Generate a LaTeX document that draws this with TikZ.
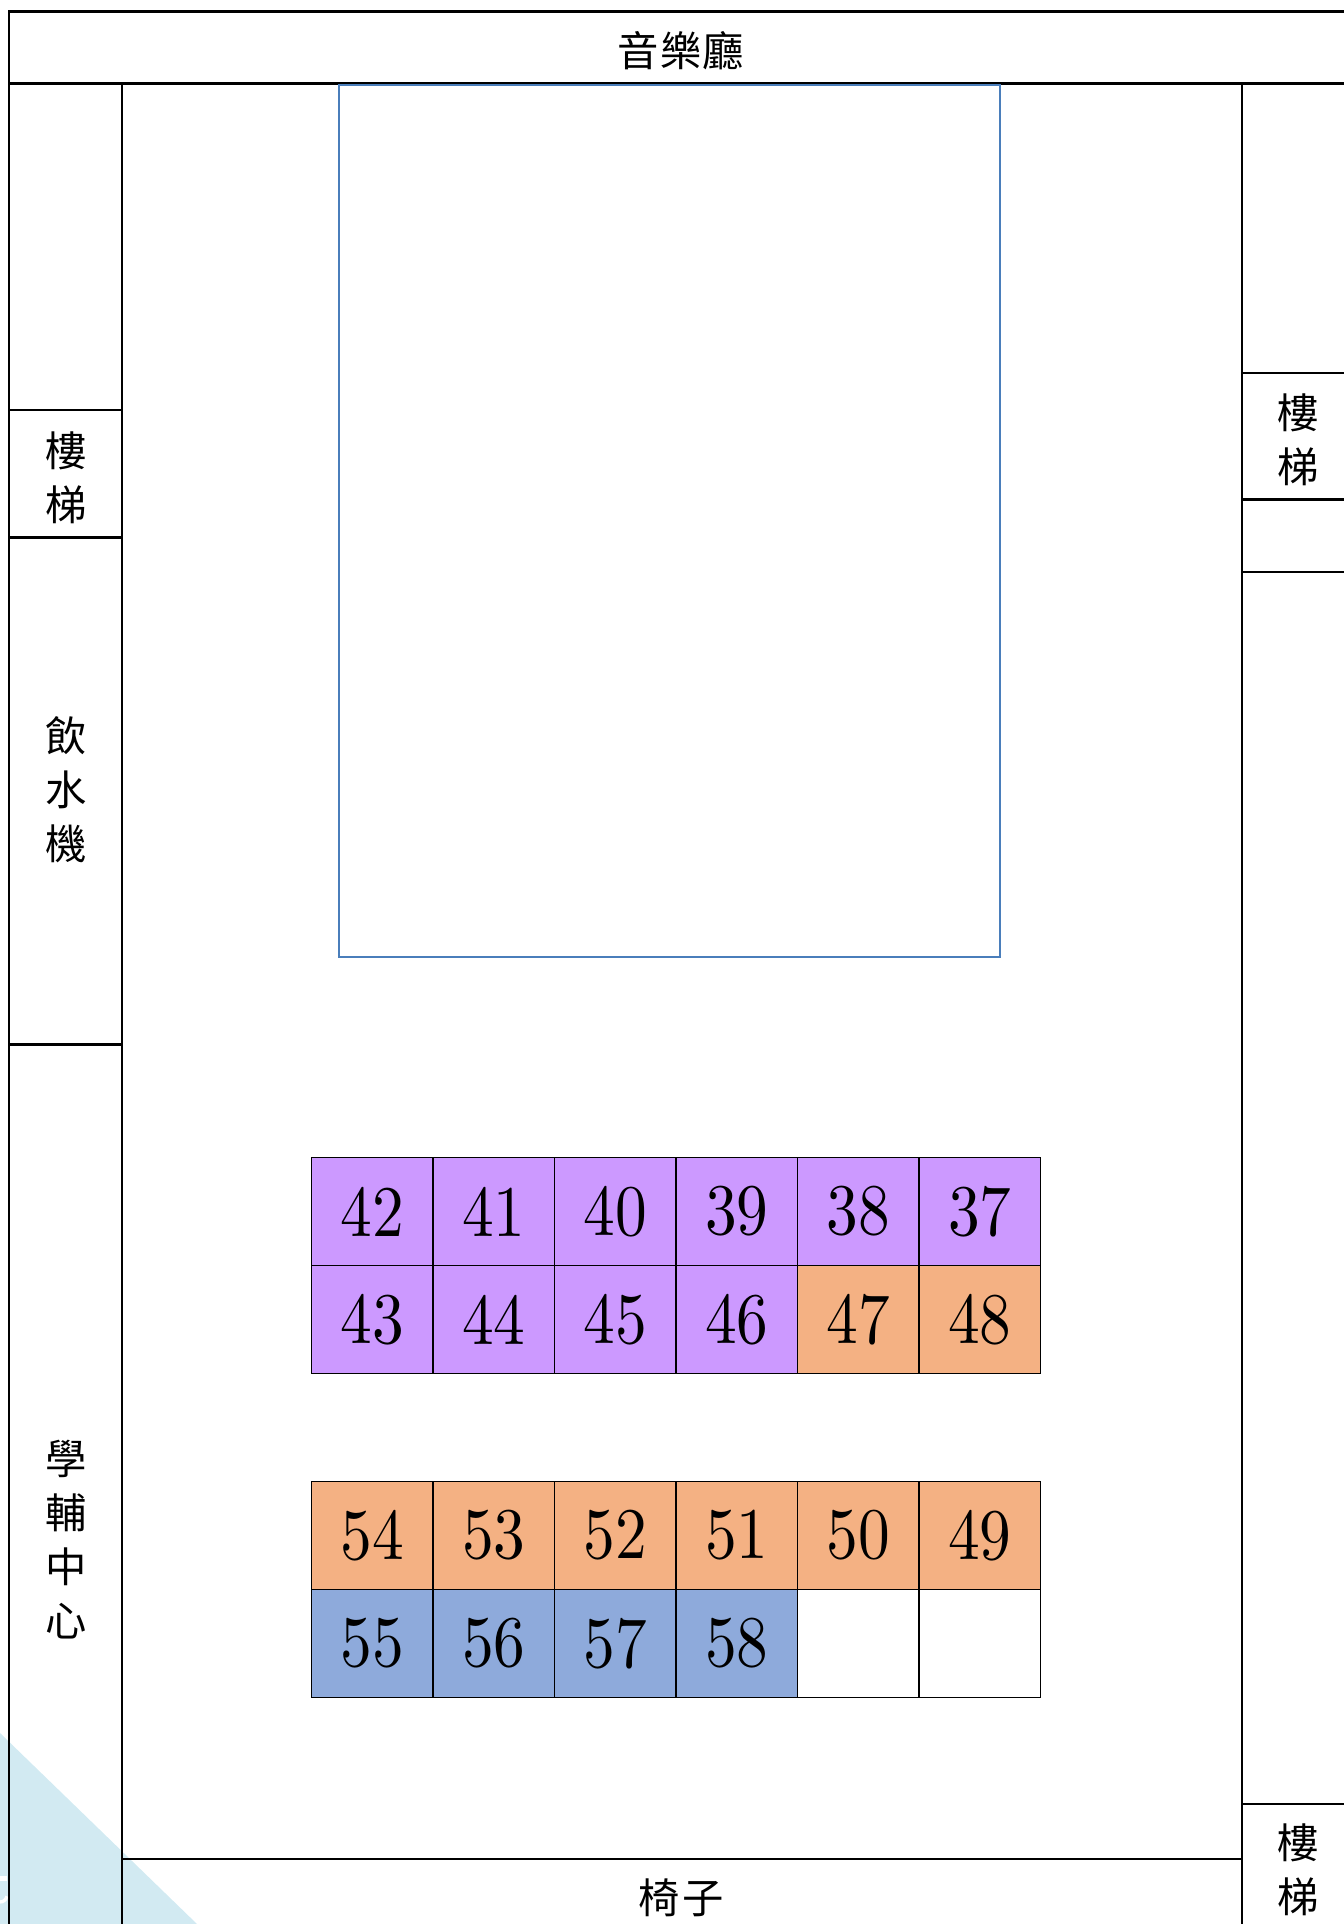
\documentclass[tikz,border=0pt]{standalone}
\usepackage{fontspec}
\newfontfamily\cjk{Noto Sans CJK TC}[Scale=1]
\definecolor{purp}{HTML}{CC99FF}
\definecolor{oran}{HTML}{F4B183}
\definecolor{blu}{HTML}{8EAADB}
\definecolor{tri}{HTML}{D2EAF2}
\definecolor{frame}{HTML}{4A7EBB}
\tikzset{
  wall/.style={draw=black,line width=1.7pt},
  seat/.style={draw=black,line width=1.3pt,minimum width=91pt,minimum height=81pt,inner sep=0pt,anchor=north west,
     font=\fontsize{10}{10}\selectfont},
  lab/.style={font=\cjk\fontsize{31}{40.5}\selectfont,align=center,inner sep=0pt},
}
\newcommand{\dg}[1]{\scalebox{4.75}[5.45]{#1}}
\begin{document}
\begin{tikzpicture}[x=0.75pt,y=-0.75pt]
\useasboundingbox (0,0) rectangle (1344,1924);
\fill[tri] (0,1733) -- (197,1924) -- (0,1924) -- cycle;
\fill[white] (0,1876) rectangle (7,1881);
\draw[white,line width=2.5pt] (0,1902) arc[start angle=90,end angle=10,radius=7];
% walls
\draw[wall] (1344,11.5) -- (9,11.5) -- (9,1924);
\draw[wall] (9,83.5) -- (1344,83.5);
\draw[wall] (121.7,83.5) -- (121.7,1924);
\draw[wall] (1242.3,83.5) -- (1242.3,1924);
\draw[wall] (121.7,1859) -- (1242.3,1859);
\draw[wall] (9,410) -- (121.7,410);
\draw[wall] (9,537.5) -- (121.7,537.5);
\draw[wall] (9,1044.6) -- (121.7,1044.6);
\draw[wall] (1242.3,373) -- (1344,373);
\draw[wall] (1242.3,499.5) -- (1344,499.5);
\draw[wall] (1242.3,572) -- (1344,572);
\draw[wall] (1242.3,1804) -- (1344,1804);
% stage
\node[draw=frame,line width=1.5pt,anchor=north west,minimum width=496pt,minimum height=654pt,inner sep=0pt] (stage) at (338,83.5) {};
% labels
\node[lab] (hall) at (681,50.5) {音\hspace{1pt}樂\hspace{1pt}廳};
\node[lab] (st1) at (66,478) {樓\\梯};
\node[lab] (water) at (66,790) {飲\\水\\機};
\node[lab] (tutor) at (66,1540) {學\\輔\\中\\心};
\node[lab] (st2) at (1298,440) {樓\\梯};
\node[lab] (st3) at (1298,1870) {樓\\梯};
\node[lab] (chair) at (681,1898) {椅\hspace{2pt}子};
% seats
\foreach \n/\c/\cc/\r in {
 42/0/purp/0,41/1/purp/0,40/2/purp/0,39/3/purp/0,38/4/purp/0,37/5/purp/0,
 43/0/purp/1,44/1/purp/1,45/2/purp/1,46/3/purp/1,47/4/oran/1,48/5/oran/1,
 54/0/oran/2,53/1/oran/2,52/2/oran/2,51/3/oran/2,50/4/oran/2,49/5/oran/2,
 55/0/blu/3,56/1/blu/3,57/2/blu/3,58/3/blu/3}{
  \pgfmathsetmacro{\yy}{\r==0?1156.7:(\r==1?1264.7:(\r==2?1480.5:1588.5))}
  \node[seat,fill=\cc] (s\n) at ({310.7+\c*121.5},\yy) {\dg{\n}};
}
\node[seat] (e1) at ({310.7+4*121.5},1588.5) {};
\node[seat] (e2) at ({310.7+5*121.5},1588.5) {};
\end{tikzpicture}
\end{document}
